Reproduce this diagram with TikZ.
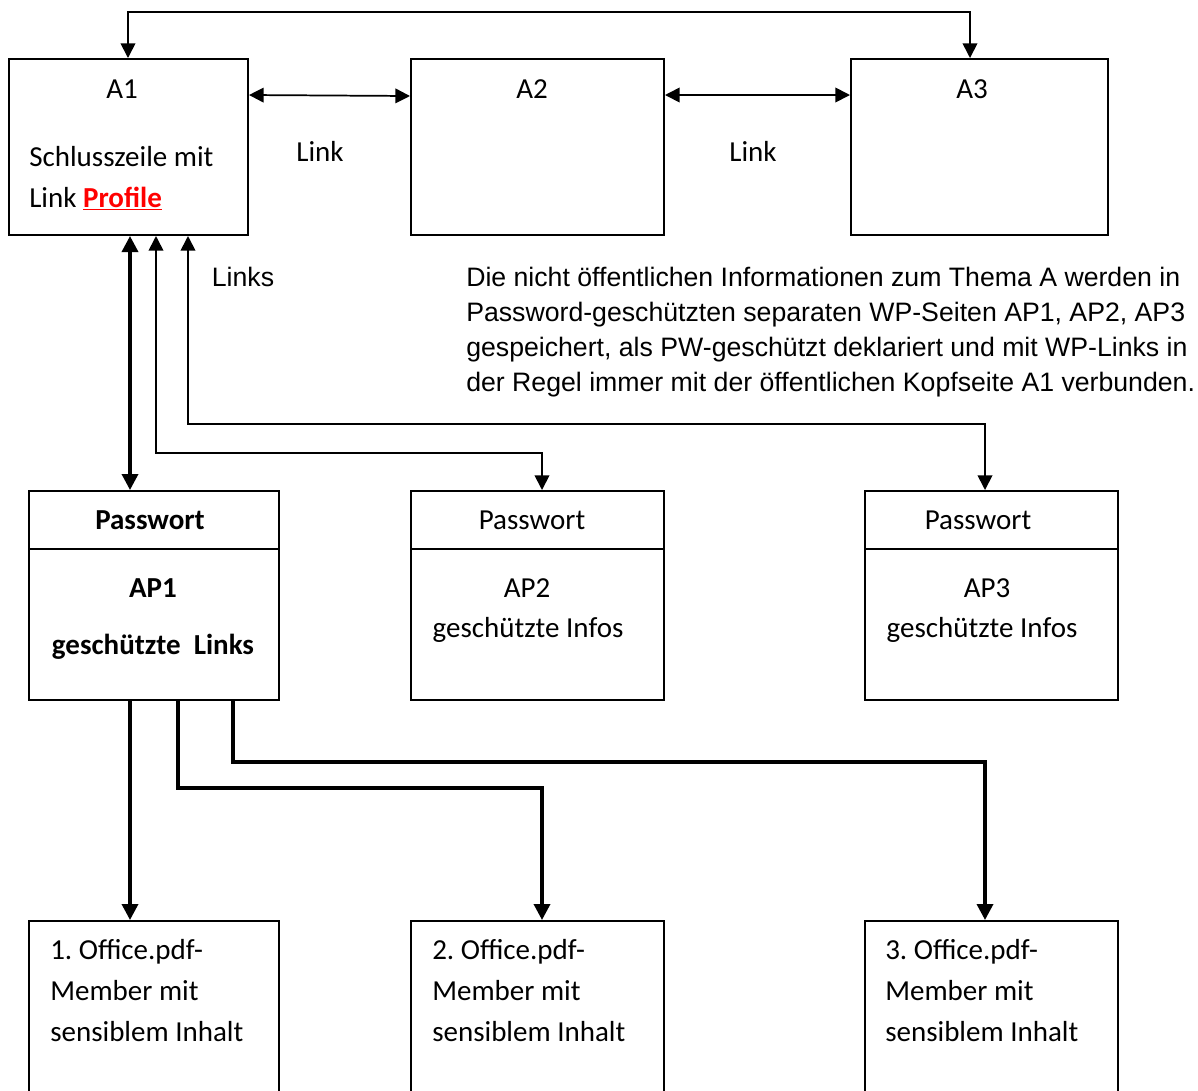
\documentclass[tikz,border=0pt]{standalone}
\usepackage{fontspec}
\setmainfont{Carlito}
\newfontfamily\arialfont{Liberation Sans}
\usetikzlibrary{arrows.meta,calc}
\frenchspacing
\begin{document}
\begin{tikzpicture}[x=0.75pt,y=-0.75pt,
  box/.style={draw, line width=1.5pt, rectangle, inner sep=0pt, anchor=north west},
  boxline/.style={line width=1.5pt},
  thinconn/.style={line width=1.3pt, {Triangle[length=11pt,width=11pt]}-{Triangle[length=11pt,width=11pt]}},
  thickconn/.style={line width=2.6pt, {Triangle[length=12pt,width=12pt]}-{Triangle[length=12pt,width=12pt]}},
  thickdown/.style={line width=2.6pt, -{Triangle[length=12pt,width=12pt]}},
  ctext/.style={font=\fontsize{21.75pt}{30.75pt}\selectfont, inner sep=0pt, anchor=base},
  ctextl/.style={ctext, anchor=base west},
  atext/.style={font=\arialfont\fontsize{20pt}{26.25pt}\selectfont, inner sep=0pt, anchor=base},
  atextl/.style={atext, anchor=base west}
]
\useasboundingbox (0,0) rectangle (1198,1090);
\clip (0,0) rectangle (1198,1090);

% top row
\node[box, minimum width=179.25pt, minimum height=132pt] (A1) at (8,58) {};
\node[box, minimum width=189.75pt, minimum height=132pt] (A2) at (410,58) {};
\node[box, minimum width=192.75pt, minimum height=132pt] (A3) at (850,58) {};

\node[ctext] (tA1) at (122,98.5) {A1};
\node[ctextl] (tA1a) at (29,166.5) {Schlusszeile mit};
\node[ctextl] (tA1b) at (29,207.5) {Link \textcolor{red}{\textbf{\underline{Profile}}}};
\node[ctext] (tA2) at (532,98.5) {A2};
\node[ctext] (tA3) at (972,98.5) {A3};
\node[ctext] (lk1) at (320,161.5) {Link};
\node[ctext] (lk2) at (753,161.5) {Link};

% middle row
\node[box, minimum width=187.5pt, minimum height=156.75pt] (P1) at (28,490) {};
\node[box, minimum width=189.75pt, minimum height=156.75pt] (P2) at (410,490) {};
\node[box, minimum width=189.75pt, minimum height=156.75pt] (P3) at (864,490) {};
\draw[boxline] ($(P1.north west)+(0,59)$) -- ($(P1.north east)+(0,59)$);
\draw[boxline] ($(P2.north west)+(0,59)$) -- ($(P2.north east)+(0,59)$);
\draw[boxline] ($(P3.north west)+(0,59)$) -- ($(P3.north east)+(0,59)$);

\node[ctext] (pw1) at (150,529.5) {\textbf{Passwort}};
\node[ctext] (ap1) at (153,597.5) {\textbf{AP1}};
\node[ctext] (gl1) at (153,654.5) {\textbf{geschützte\ \ Links}};
\node[ctext] (pw2) at (532,529.5) {Passwort};
\node[ctext] (ap2) at (527,597.5) {AP2};
\node[ctext] (gi2) at (528,637.5) {geschützte Infos};
\node[ctext] (pw3) at (978,529.5) {Passwort};
\node[ctext] (ap3) at (987,597.5) {AP3};
\node[ctext] (gi3) at (982,637.5) {geschützte Infos};

% bottom row
\node[box, minimum width=187.5pt, minimum height=142.5pt] (O1) at (28,920) {};
\node[box, minimum width=189.75pt, minimum height=142.5pt] (O2) at (410,920) {};
\node[box, minimum width=189.75pt, minimum height=142.5pt] (O3) at (864,920) {};
\foreach \n/\x/\k in {1/50/1, 2/432/2, 3/885/3}{
  \node[ctextl] (o\n a) at (\x,959.5) {\k.\ Office.pdf-};
  \node[ctextl] (o\n b) at (\x,1000.5) {Member mit};
  \node[ctextl] (o\n c) at (\x,1041.5) {sensiblem Inhalt};
}

% paragraph
\node[atext] (links) at (243,286.5) {Links};
\node[atextl] (par1) at (466,286.5) {Die nicht öffentlichen Informationen zum Thema A werden in};
\node[atextl] (par2) at (466,321.5) {Password-geschützten separaten WP-Seiten AP1, AP2, AP3};
\node[atextl] (par3) at (466,356.5) {gespeichert, als PW-geschützt deklariert und mit WP-Links in};
\node[atextl] (par4) at (466,391.5) {der Regel immer mit der öffentlichen Kopfseite A1 verbunden.};

% connectors top
\draw[thinconn] ($(A1.north west)+(120,0)$) -- ++(0,-46) -| ($(A3.north west)+(120,0)$);
\draw[thinconn] ($(A1.north east)+(0,37)$) -- ($(A2.north west)+(0,38)$);
\draw[thinconn] ($(A2.north east)+(0,37)$) -- ($(A3.north west)+(0,37)$);

% A1 to password pages
\draw[thickconn] ($(A1.south west)+(122,0)$) -- ($(P1.north west)+(102,0)$);
\draw[thinconn] ($(A1.south west)+(148,0)$) |- ($(P2.north west)+(132,-37)$) -- ($(P2.north west)+(132,0)$);
\draw[thinconn] ($(A1.south west)+(180,0)$) |- ($(P3.north west)+(121,-66)$) -- ($(P3.north west)+(121,0)$);

% AP1 to office files
\draw[thickdown] ($(P1.south west)+(102,0)$) -- ($(O1.north west)+(102,0)$);
\draw[thickdown] ($(P1.south west)+(150,0)$) -- ++(0,87) -| ($(O2.north west)+(132,0)$);
\draw[thickdown] ($(P1.south west)+(205,0)$) -- ++(0,61) -| ($(O3.north west)+(121,0)$);
\end{tikzpicture}
\end{document}
